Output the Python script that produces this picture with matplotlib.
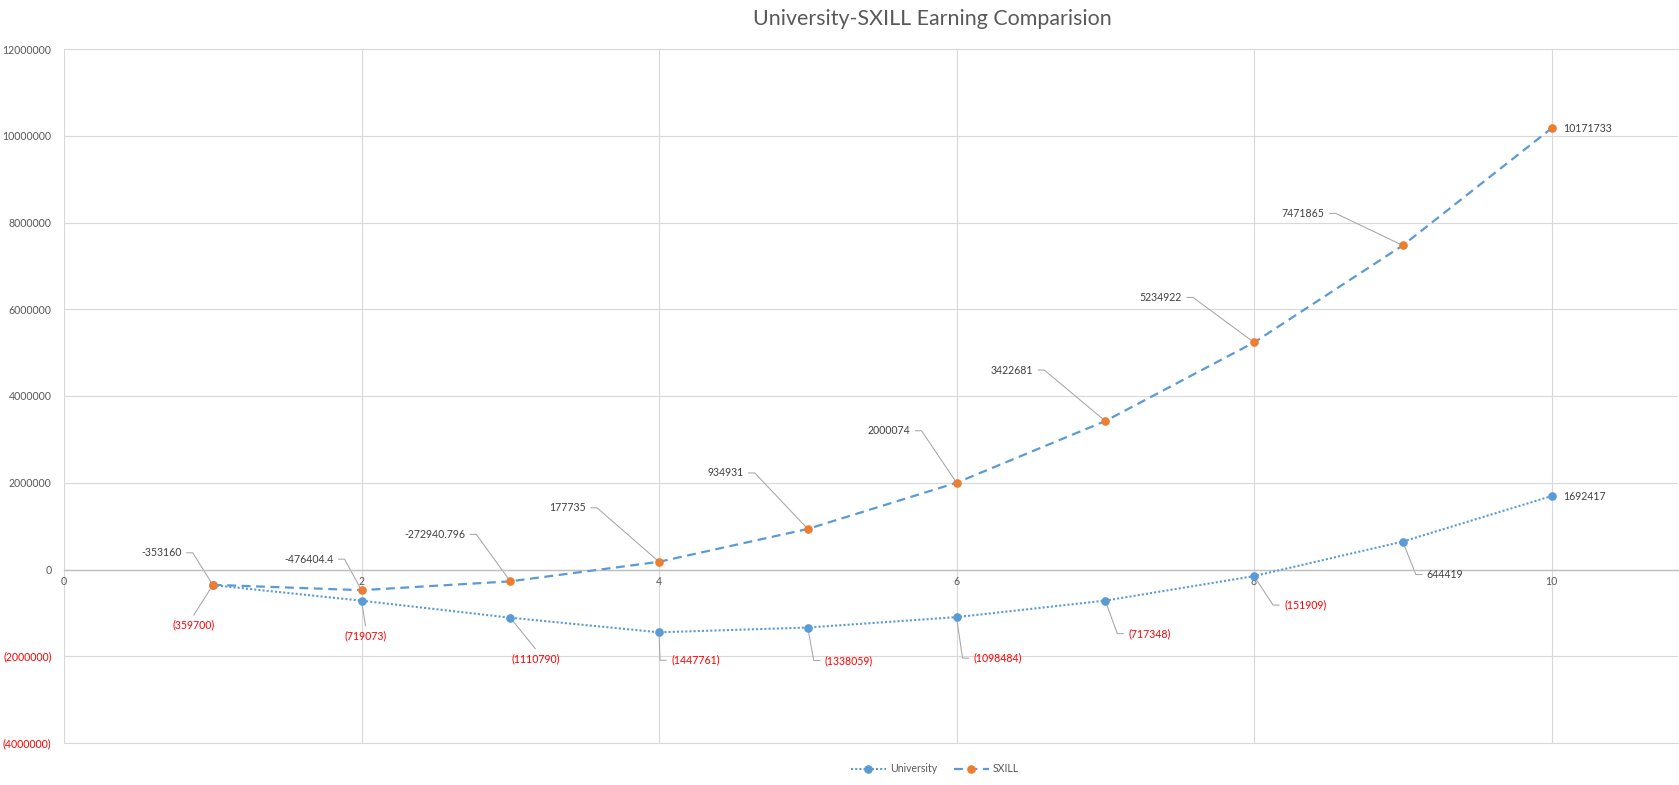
import matplotlib
matplotlib.use("Agg")
import matplotlib.pyplot as plt
from matplotlib.ticker import FixedLocator, FuncFormatter

# data
years = [1, 2, 3, 4, 5, 6, 7, 8, 9, 10]
university = [-359700, -719073, -1110790, -1447761, -1338059,
              -1098484, -717348, -151909, 644419, 1692417]
sxill = [-353160, -476404.4, -272940.796, 177735, 934931,
         2000074, 3422681, 5234922, 7471865, 10171733]
x_ticks = [0, 2, 4, 6, 8, 10]
y_ticks = [-4000000, -2000000, 0, 2000000, 4000000, 6000000,
           8000000, 10000000, 12000000]
series_names = ["University", "SXILL"]

# label placement (pixel offsets from the point, x right / y down) and alignment
SX_OFFSETS = [(-31, -32), (-28, -31), (-45, -47), (-73, -54), (-64, -56),
              (-46, -52), (-72, -51), (-72, -45), (-78, -32), (12, 0)]
SX_ALIGN = ["right"] * 9 + ["end"]
UNI_OFFSETS = [(-19, 40), (4, 35), (25, 41), (12, 28), (17, 33),
               (17, 41), (23, 33), (30, 29), (24, 33), (12, 0)]
UNI_ALIGN = ["center"] * 3 + ["left"] * 6 + ["end"]

BLUE = "#5B9BD5"
ORANGE = "#ED7D31"
GRID = "#D9D9D9"
TEXT = "#595959"
LABEL = "#404040"
RED = "#FF0000"
LEADER = "#A6A6A6"

plt.rcParams["font.family"] = ["Lato", "DejaVu Sans"]

W, H = 1679, 785
fig = plt.figure(figsize=(W / 100, H / 100), dpi=100)
ax = fig.add_axes([64 / W, 1 - 743 / H, (1678 - 64) / W, (743 - 49) / H])
ax.set_xlim(0, 10.85)
ax.set_ylim(-4000000, 12000000)

ax.xaxis.set_major_locator(FixedLocator(x_ticks))
ax.yaxis.set_major_locator(FixedLocator(y_ticks))
ax.grid(True, color=GRID, linewidth=0.8)
ax.set_axisbelow(True)
# bottom and top edge lines (gridlines at the limits get clipped)
ax.axhline(y_ticks[0], color=GRID, linewidth=0.8, clip_on=False, zorder=0.5)
ax.axhline(y_ticks[-1], color=GRID, linewidth=0.8, clip_on=False, zorder=0.5)

for side in ["top", "right", "left"]:
    ax.spines[side].set_visible(False)
ax.spines["bottom"].set_position(("data", 0))
ax.spines["bottom"].set_color("#BFBFBF")
ax.spines["bottom"].set_linewidth(1.0)

ax.tick_params(axis="both", length=0, labelsize=7.6, labelcolor=TEXT)
ax.tick_params(axis="x", pad=5)
ax.tick_params(axis="y", pad=9)


def y_fmt(v, pos):
    if v < 0:
        return f"({abs(int(v))})"
    return f"{int(v)}"


ax.yaxis.set_major_formatter(FuncFormatter(y_fmt))
for lab, v in zip(ax.get_yticklabels(), y_ticks):
    lab.set_color(RED if v < 0 else TEXT)

ax.plot(years, university, color=BLUE, linewidth=1.5, linestyle=(0, (1, 1)),
        marker="o", markersize=5.2, markerfacecolor=BLUE, markeredgecolor=BLUE,
        label=series_names[0], zorder=3)
ax.plot(years, sxill, color=BLUE, linewidth=1.6, linestyle=(0, (4, 2.5)),
        marker="o", markersize=5.2, markerfacecolor=ORANGE, markeredgecolor=ORANGE,
        label=series_names[1], zorder=4)

fig.suptitle("University-SXILL Earning Comparision", x=932 / W, y=1 - 19 / H,
             va="center", fontsize=15.4, color=TEXT)

to_disp = ax.transData
to_data = ax.transData.inverted()


def leader(points):
    pts = to_data.transform(points)
    ax.plot(pts[:, 0], pts[:, 1], color=LEADER, linewidth=0.75, zorder=2,
            clip_on=False)


def value_text(v, paren):
    if v < 0 and paren:
        return f"({abs(int(v))})", RED
    if float(v).is_integer():
        return f"{int(v)}", LABEL
    return f"{v}", LABEL


def add_labels(xs, ys, offsets, aligns, paren):
    for x, y, (dx, dy), al in zip(xs, ys, offsets, aligns):
        px, py = to_disp.transform((x, y))
        tx, ty = px + dx, py - dy
        txt, col = value_text(y, paren)
        ha = "left" if al == "end" else al
        tdx, tdy = to_data.transform((tx, ty))
        ax.text(tdx, tdy, txt, ha=ha, va="center", fontsize=7.6, color=col,
                zorder=5, clip_on=False)
        if al == "right":
            leader([(tx + 5, ty), (tx + 11, ty), (px, py)])
        elif al == "left":
            leader([(px, py), (tx - 11, ty), (tx - 5, ty)])
        elif al == "center":
            leader([(px, py), (tx, ty + 10)])


add_labels(years, sxill, SX_OFFSETS, SX_ALIGN, paren=False)
add_labels(years, university, UNI_OFFSETS, UNI_ALIGN, paren=True)

fig.legend(loc="center", bbox_to_anchor=(935 / W, 1 - 769 / H), ncol=2,
           frameon=False, fontsize=7.6, labelcolor=TEXT, handlelength=3.3,
           handletextpad=0.4, columnspacing=1.6, numpoints=1)

fig.savefig("out.png", dpi=100)
